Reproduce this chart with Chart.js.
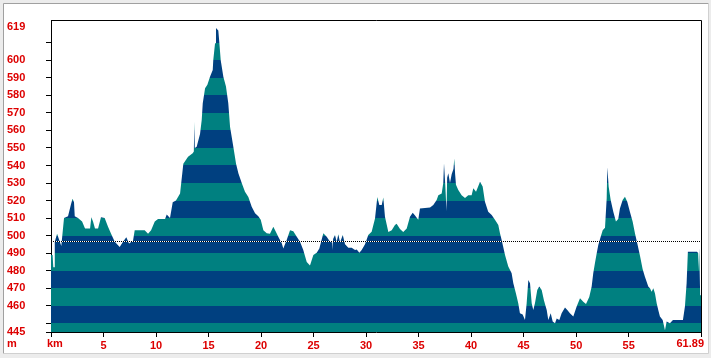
<!DOCTYPE html>
<html><head><meta charset="utf-8">
<script src="https://cdn.jsdelivr.net/npm/chart.js@4.4.1/dist/chart.umd.min.js"></script>
<style>html,body{margin:0;padding:0;background:#fff;}canvas{display:block;}</style>
</head><body>
<canvas id="c" width="711" height="358"></canvas>
<script>
// ---- data ----
const distanceKm = [0.00,0.15,0.22,0.29,0.36,0.58,0.98,1.24,1.62,1.91,2.05,2.19,2.26,2.57,2.96,3.24,3.72,3.84,4.00,4.19,4.48,4.76,5.11,5.43,5.72,6.07,6.54,6.86,7.17,7.43,7.81,7.97,8.92,9.24,9.53,9.88,10.19,10.86,11.02,11.33,11.59,11.90,12.29,12.60,13.05,13.49,13.60,13.65,13.69,13.87,14.19,14.35,14.45,14.67,14.89,15.14,15.40,15.45,15.62,15.71,15.93,16.03,16.16,16.41,16.66,16.88,17.05,17.36,17.62,17.84,18.16,18.47,18.79,19.11,19.43,19.74,19.97,20.22,20.54,20.85,21.17,21.42,21.64,21.97,22.12,22.44,22.76,23.07,23.40,23.71,24.02,24.35,24.66,24.98,25.30,25.55,25.93,26.25,26.57,26.78,26.82,26.86,27.04,27.20,27.36,27.52,27.78,28.00,28.31,28.63,28.95,29.11,29.36,29.58,29.90,30.21,30.53,30.85,31.07,31.26,31.49,31.64,31.80,32.12,32.44,32.75,32.91,33.23,33.54,33.87,34.18,34.44,34.66,34.97,35.13,36.09,36.40,36.72,36.88,37.20,37.35,37.42,37.54,37.66,37.72,37.83,37.99,38.15,38.32,38.40,38.48,38.56,38.78,39.10,39.42,39.73,40.05,40.21,40.47,40.85,41.10,41.32,41.63,41.96,42.27,42.59,42.75,42.91,43.23,43.54,43.86,44.02,44.27,44.49,44.65,44.91,45.13,45.29,45.45,45.61,45.77,45.92,46.08,46.30,46.49,46.72,46.94,47.20,47.35,47.58,47.77,47.99,48.15,48.40,48.62,48.94,49.16,49.41,49.73,50.05,50.37,50.68,50.94,51.25,51.48,51.63,51.79,51.96,52.11,52.34,52.53,52.75,52.91,52.97,53.10,53.29,53.54,53.79,54.01,54.17,54.43,54.65,54.87,55.12,55.38,55.60,55.82,56.08,56.33,56.55,56.87,57.03,57.19,57.35,57.51,57.67,57.82,57.98,58.24,58.46,58.62,58.93,59.22,60.17,60.36,60.52,60.64,61.50,61.62,61.67,61.72,61.81,61.89];
const elevationM = [489,489,482,482,496.5,501,494,510,511,518,521,519,511,510,508,504,504,510.5,508,504,504,510.5,510,505,501,496.5,493.5,496.5,499,495.5,497,503,503,501,503,508,509.5,509.5,512,510,519,520,524,541,545,547,548,565,550,550.7,558,566,575.5,584,586,590.6,594.5,600,609.7,618.5,617,610,600,590.6,585,575.5,562,550.7,541,535.5,530,525,522,516.5,512.7,511,509,503,501.3,501,505,502,499.4,495.6,492.7,497.5,503,502.5,499.4,496.5,491.8,485,483,489,490.2,492.7,501.3,499.4,496.5,496,491.8,498,500.3,496.5,500.7,496,500.3,495,493,493,491.8,492,490.2,491.8,495,500.3,502.2,509.8,522,517.5,517.5,521.7,510.8,502,503,506,506.8,503.8,502,504,510.8,513,511.4,509,515.5,516,517.5,520.3,523,524,530,541.3,529,514,533,535.5,530,535,538,544,535,529,526,523,521.5,523,523,527,525,530.7,528,519.3,513.6,511.7,509,506,501.3,497.5,489,482.3,478.5,472.8,467,461.4,455.7,455,451.8,461.4,474.7,472.8,461.4,457.5,461.4,469,471,469,463,457.5,451.8,455.7,451,450,452.7,451.8,455.7,459,457.5,455.7,453.8,459.6,464.2,462.3,461,465,470.9,478.5,484.2,489.9,494.6,499.4,503,504.5,521.3,539,527.9,520.3,513.6,508,509.5,515.5,520.3,522.2,519.3,513.6,508,501.3,495.6,488.5,481,476.5,470.9,470,468,470,467,461.4,457.5,453.8,451.8,446,451,450,451.8,451.8,459.6,472.8,490.8,490.8,490,480,493,466,466];
const xTickValues = [0,5,10,15,20,25,30,35,40,45,50,55,61.89];
const yTickValues = [445,450,460,470,480,490,500,510,520,530,540,550,560,570,580,590,600,610,619];
const yHiddenLabels = [450,610];
const meanElevation = 497;
const yMin = 445, yMax = 623, xMax = 61.89;
const unitLabels = {elev:'m', dist:'km', end:'61.89'};

const TEAL = '#008080', BLUE = '#004080', RED = '#dd0000';
const FONT = {family:'"Liberation Sans", Arial, sans-serif', size:11, weight:'bold'};

function stripeFill(ctx){
  const chart = ctx.chart; const ca = chart.chartArea; const ys = chart.scales.y;
  if (!ca || !ys) return TEAL;
  const lo = 440, hi = 640;
  const g = chart.ctx.createLinearGradient(0, ys.getPixelForValue(lo), 0, ys.getPixelForValue(hi));
  for (let v = lo; v < hi; v += 10){
    const k = (v - lo) / 10;
    const c = k % 2 === 0 ? TEAL : BLUE;
    g.addColorStop((v - lo)/(hi - lo), c);
    g.addColorStop((v + 10 - lo)/(hi - lo), c);
  }
  return g;
}

const framePlugin = {
  id:'frame',
  beforeDraw(chart){
    const c = chart.ctx, W = chart.width, H = chart.height;
    c.save();
    c.fillStyle = '#ececec'; c.fillRect(0,0,W,H);
    c.fillStyle = '#ffffff'; c.fillRect(4,4,704,349);
    c.strokeStyle = '#a0a0a0'; c.lineWidth = 1;
    c.beginPath(); c.moveTo(3.5,353.5); c.lineTo(3.5,3.5); c.lineTo(708.5,3.5); c.stroke();
    c.strokeStyle = '#d0d0d0';
    c.beginPath(); c.moveTo(708.5,3.5); c.lineTo(708.5,353.5); c.lineTo(3.5,353.5); c.stroke();
    c.restore();
  },
  afterDatasetsDraw(chart){
    const c = chart.ctx, ca = chart.chartArea;
    const y = Math.round(chart.scales.y.getPixelForValue(meanElevation)) + 0.5;
    c.save(); c.lineWidth = 1;
    c.setLineDash([1,1]);
    c.strokeStyle = '#ffffff'; c.lineDashOffset = 1;
    c.beginPath(); c.moveTo(ca.left, y); c.lineTo(ca.right, y); c.stroke();
    c.strokeStyle = '#000000'; c.lineDashOffset = 0;
    c.beginPath(); c.moveTo(ca.left, y); c.lineTo(ca.right, y); c.stroke();
    c.restore();
  },
  afterDraw(chart){
    const c = chart.ctx, ca = chart.chartArea;
    c.save();
    c.strokeStyle = '#000'; c.lineWidth = 1;
    c.beginPath(); c.moveTo(ca.left, ca.top + 0.5); c.lineTo(Math.round(ca.right)+0.5, ca.top + 0.5);
    c.lineTo(Math.round(ca.right)+0.5, ca.bottom); c.stroke();
    c.fillStyle = RED;
    c.font = 'bold 11px "Liberation Sans", Arial, sans-serif';
    c.textBaseline = 'middle';
    c.textAlign = 'left';
    c.fillText(unitLabels.elev, 7, 344);
    c.fillText(unitLabels.dist, 47, 344);
    c.textAlign = 'right';
    c.fillText(unitLabels.end, 704, 344);
    c.restore();
  }
};

new Chart(document.getElementById('c'), {
  type:'line',
  data:{
    datasets:[{
      data: distanceKm.map((x,i)=>({x, y: elevationM[i]})),
      fill:'start',
      backgroundColor: stripeFill,
      borderWidth:0,
      borderColor:'rgba(0,0,0,0)',
      pointRadius:0,
      tension:0
    }]
  },
  options:{
    responsive:false,
    animation:false,
    devicePixelRatio:1,
    layout:{padding:{left:7, top:20, right:10, bottom:0}},
    plugins:{legend:{display:false}, tooltip:{enabled:false}},
    scales:{
      x:{
        type:'linear', min:0, max:xMax,
        afterBuildTicks(s){ s.ticks = xTickValues.map(v=>({value:v})); },
        afterFit(s){ s.height = 26; s.paddingLeft = 0; s.paddingRight = 0; },
        ticks:{
          autoSkip:false, maxRotation:0, padding:2, color:RED, font:FONT,
          callback(v){ return (v === 0 || v === xMax) ? '' : String(v); }
        },
        grid:{display:true, drawOnChartArea:false, drawTicks:true, tickLength:5, color:'#000'},
        border:{display:true, color:'#000', width:1}
      },
      y:{
        type:'linear', min:yMin, max:yMax,
        afterBuildTicks(s){ s.ticks = yTickValues.map(v=>({value:v})); },
        afterFit(s){ s.width = 44; s.paddingTop = 0; s.paddingBottom = 0; },
        ticks:{
          autoSkip:false, crossAlign:'far', padding:2, color:RED, font:FONT,
          callback(v){ return yHiddenLabels.includes(v) ? '' : String(v); }
        },
        grid:{display:true, drawOnChartArea:false, drawTicks:true, tickLength:5,
          color(ctx){ return (ctx.tick && ctx.tick.value === 619) ? 'rgba(0,0,0,0)' : '#000'; }},
        border:{display:true, color:'#000', width:1, dash:[1,1]}
      }
    }
  },
  plugins:[framePlugin]
});
</script>
</body></html>
